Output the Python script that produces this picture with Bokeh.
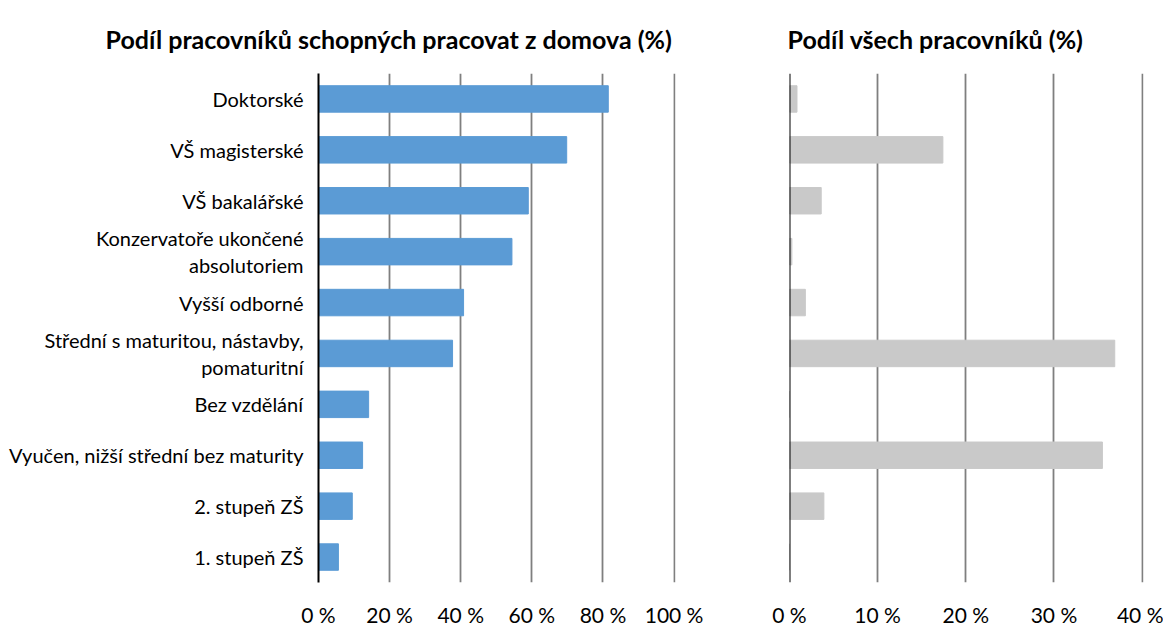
from bokeh.plotting import figure
from bokeh.models import FactorRange, FixedTicker, Title, Span
from bokeh.layouts import row
from bokeh.embed import file_html
from bokeh.resources import INLINE

categories = [
    "Doktorské",
    "VŠ magisterské",
    "VŠ bakalářské",
    "Konzervatoře ukončené\nabsolutoriem",
    "Vyšší odborné",
    "Střední s maturitou, nástavby,\npomaturitní",
    "Bez vzdělání",
    "Vyučen, nižší střední bez maturity",
    "2. stupeň ZŠ",
    "1. stupeň ZŠ",
]
home_share = [81.5, 69.8, 59.0, 54.4, 40.8, 37.7, 14.1, 12.4, 9.5, 5.6]
all_share = [0.85, 17.4, 3.6, 0.27, 1.8, 36.9, 0.0, 35.5, 3.9, 0.0]

left_ticks = [0, 20, 40, 60, 80, 100]
right_ticks = [0, 10, 20, 30, 40]
left_title = "Podíl pracovníků schopných pracovat z domova (%)"
right_title = "Podíl všech pracovníků (%)"

FONT = "Lato"
H = 629


def make_fig(values, ticks, title, color, width, border_left, border_right, offset, show_labels):
    span = ticks[-1] - ticks[0]
    p = figure(
        width=width, height=H,
        y_range=FactorRange(*reversed(categories)),
        x_range=(ticks[0], ticks[-1] + span * 0.004),
        output_backend="svg", toolbar_location=None,
        min_border_left=border_left, min_border_right=border_right,
        min_border_top=73, min_border_bottom=40,
    )
    p.title = None
    xax = p.below[0]
    xax.ticker = FixedTicker(ticks=ticks)
    xax.major_label_overrides = {t_: f"{t_} %" for t_ in ticks}
    xax.axis_line_color = None
    xax.major_tick_line_color = None
    xax.minor_tick_line_color = None
    xax.major_label_standoff = 13
    xax.major_label_text_font = FONT
    xax.major_label_text_font_size = "21px"
    xax.major_label_text_color = "#000000"
    t = Title(text=title, align="left", offset=offset, vertical_align="bottom",
              text_font=FONT, text_font_size="25px", text_font_style="bold",
              text_color="#000000", standoff=40)
    p.add_layout(t, "above")
    p.hbar(y=categories, right=values, left=0, height=0.52, color=color)
    p.outline_line_color = None
    p.ygrid.grid_line_color = None
    p.xgrid.ticker = FixedTicker(ticks=ticks)
    p.xgrid.grid_line_color = "#7f7f7f"
    p.xgrid.grid_line_width = 1.8
    if show_labels:
        p.yaxis.axis_line_color = "#000000"
        p.yaxis.axis_line_width = 2
        p.yaxis.major_tick_line_color = None
        p.yaxis.minor_tick_line_color = None
        p.yaxis.major_label_standoff = 9
        p.yaxis.major_label_text_font = FONT
        p.yaxis.major_label_text_font_size = "20px"
        p.yaxis.major_label_text_line_height = 1.12
        p.yaxis.major_label_text_color = "#000000"
    else:
        p.yaxis.visible = False
        p.add_layout(Span(location=0, dimension="height", line_color="#000000", line_width=2))
    return p


p1 = make_fig(home_share, left_ticks, left_title, "#5b9bd5", 725, 318, 50, -213, True)
p2 = make_fig(all_share, right_ticks, right_title, "#c9c9c9", 438, 64, 20, -2, False)

layout = row(p1, p2)
open("out.html", "w").write(file_html(layout, INLINE))
